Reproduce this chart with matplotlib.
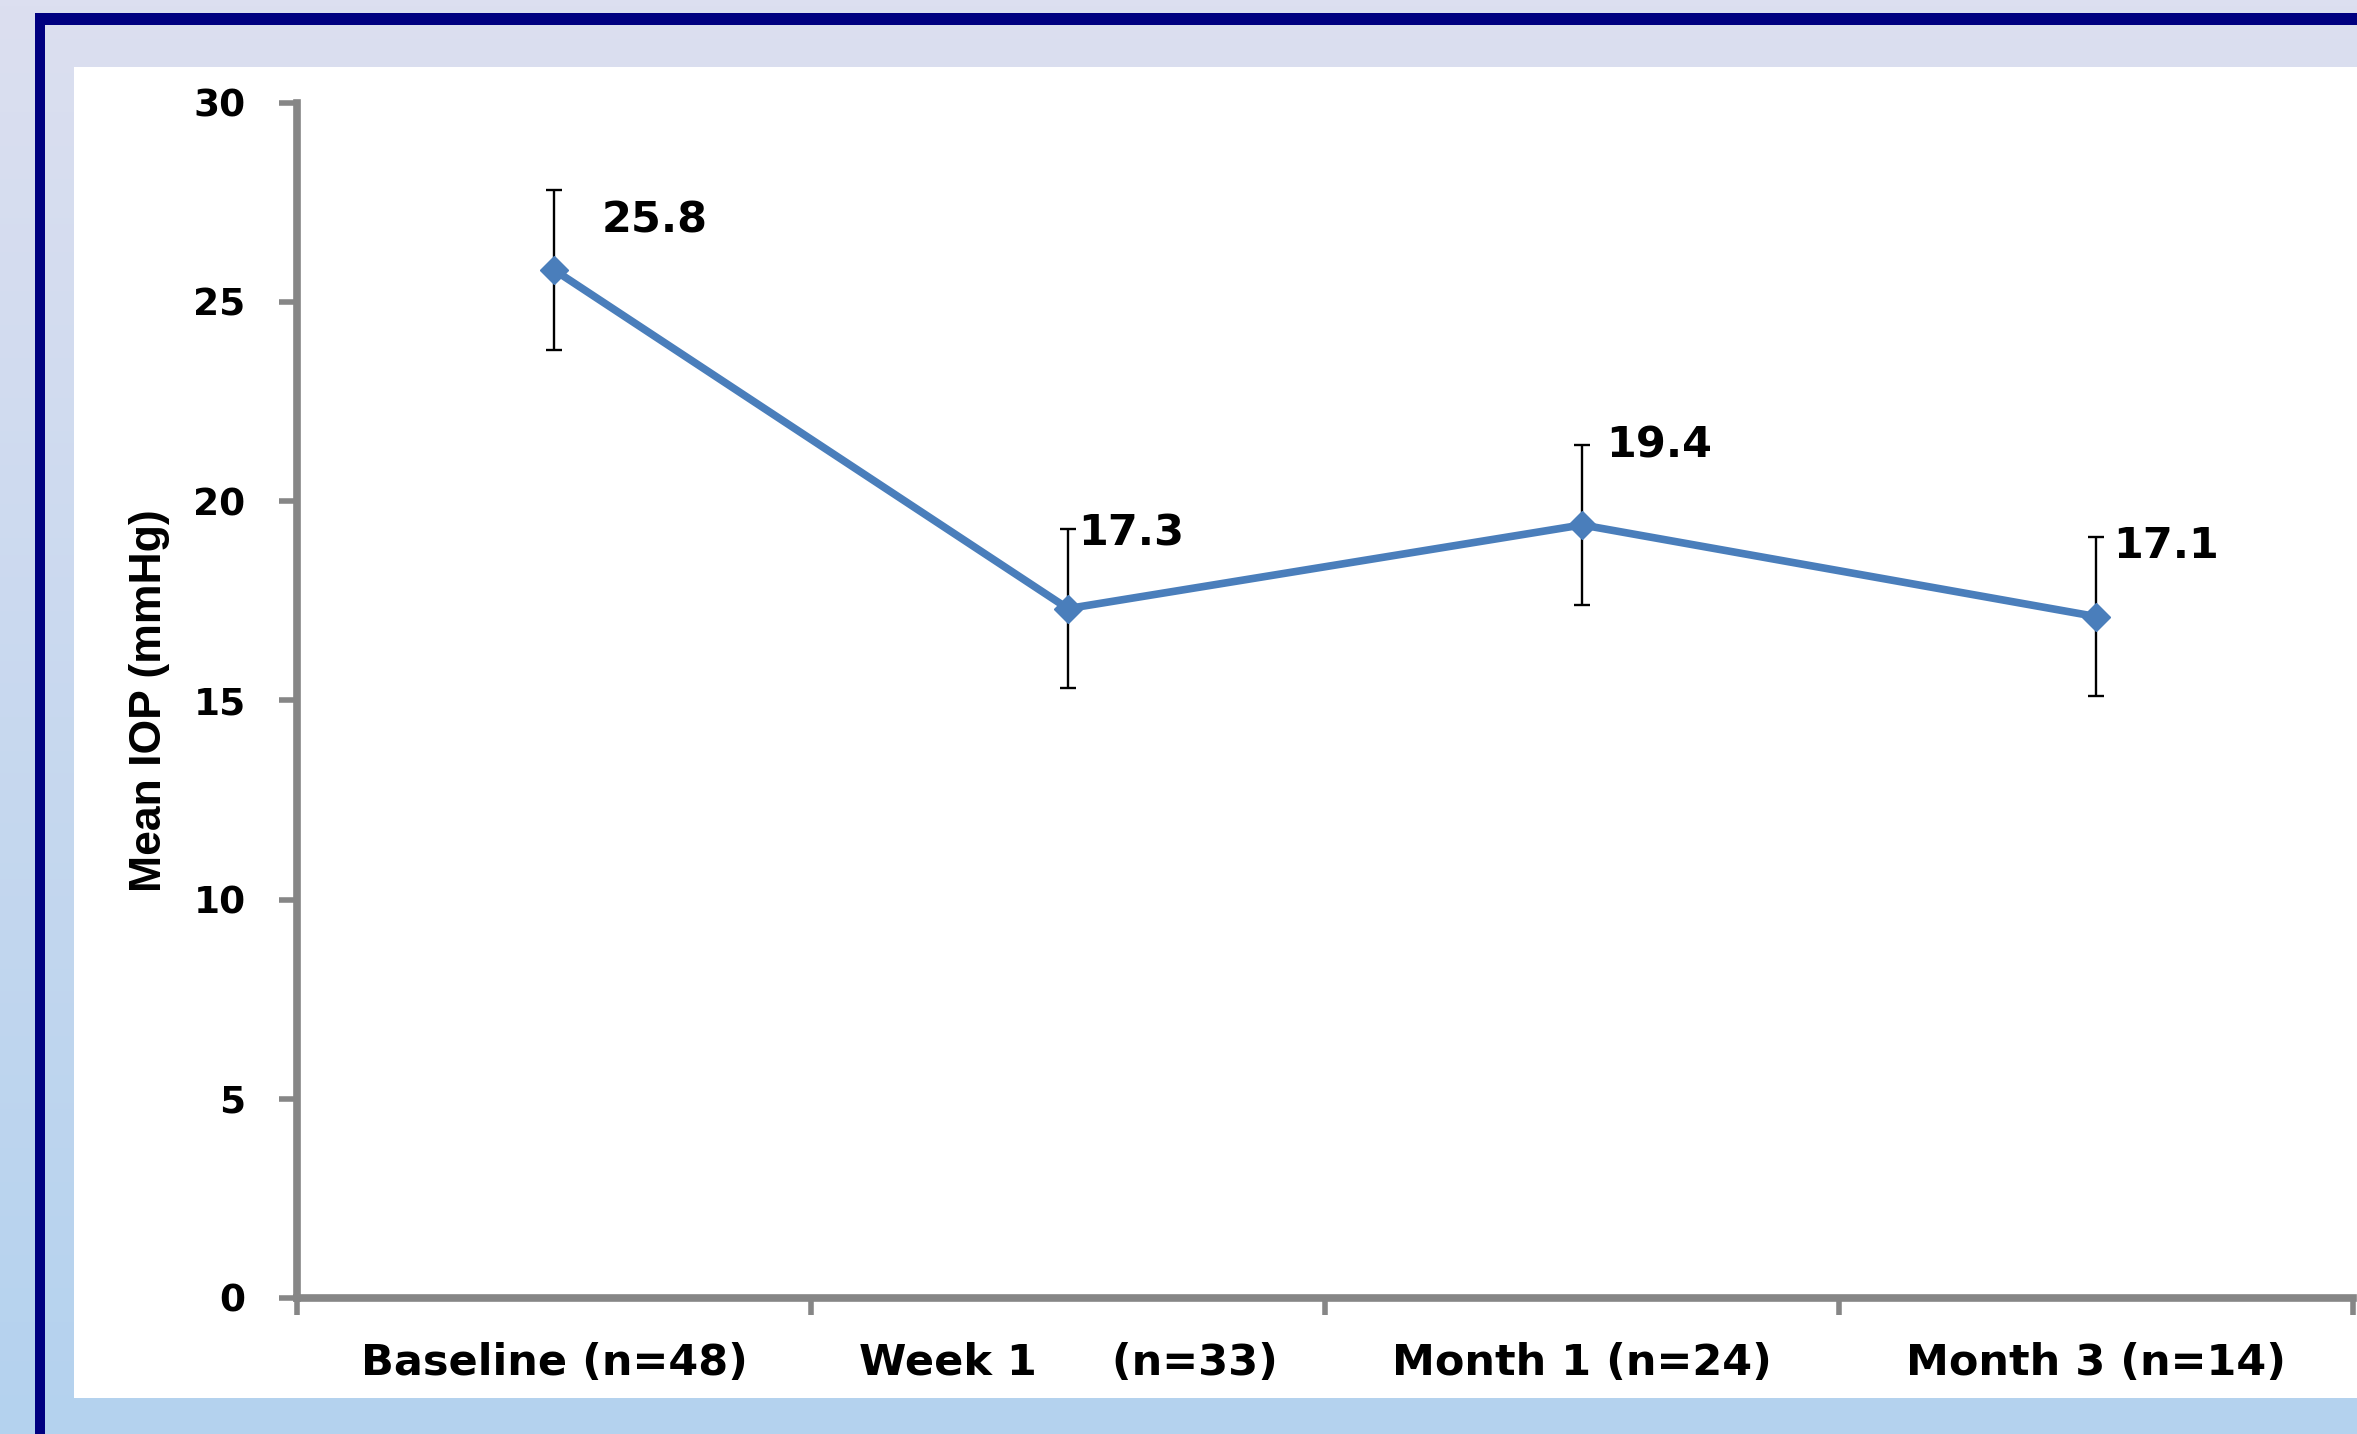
import numpy as np
import matplotlib
matplotlib.use("Agg")
import matplotlib.pyplot as plt
from matplotlib import font_manager
from matplotlib.patches import Rectangle

# ----- data -----
categories = ["Baseline (n=48)", "Week 1     (n=33)", "Month 1 (n=24)", "Month 3 (n=14)"]
mean_iop = [25.8, 17.3, 19.4, 17.1]
err = [2.0, 2.0, 2.0, 2.0]
value_labels = ["25.8", "17.3", "19.4", "17.1"]
# label offsets from the point (pixels: right, up) -- hand placed like the slide
label_dx = [48, 10, 24, 17]
label_dy = [37, 63, 67, 59]


def have_font(name):
    try:
        font_manager.findfont(font_manager.FontProperties(family=name, weight="bold"),
                              fallback_to_default=False)
        return True
    except Exception:
        return False


# narrow font for the y label (Calibri-like in the original)
ylab_font, ylab_size = "DejaVu Sans", 27
for name, size in [("Liberation Sans Narrow", 40), ("DejaVu Sans Condensed", 30),
                   ("Liberation Sans", 32)]:
    if have_font(name):
        ylab_font, ylab_size = name, size
        break

W, H = 2357, 1434
fig = plt.figure(figsize=(W / 100, H / 100), dpi=100)

# ----- slide background (gradient + navy frame + white panel) -----
bg = fig.add_axes([0, 0, 1, 1], zorder=0)
top_c = np.array([220, 223, 240]) / 255
bot_c = np.array([180, 210, 238]) / 255
t = np.linspace(0, 1, 256)[:, None, None]
grad = top_c * (1 - t) + bot_c * t
grad = np.repeat(grad, 2, axis=1)
bg.imshow(grad, aspect="auto", extent=[0, W, H, 0])
bg.set_xlim(0, W)
bg.set_ylim(H, 0)
bg.axis("off")
navy = "#000080"
bg.add_patch(Rectangle((35, 13), W - 35, 12, color=navy, lw=0))
bg.add_patch(Rectangle((35, 13), 10, H - 13, color=navy, lw=0))
bg.add_patch(Rectangle((74, 67), W - 74, 1398 - 67, color="white", lw=0))

# ----- chart -----
ax = fig.add_axes([297 / W, 1 - 1298 / H, (2353 - 297) / W, (1298 - 102.5) / H], zorder=1)
ax.patch.set_alpha(0)
x = np.arange(len(categories))

blue = "#4A7EBB"
ax.errorbar(x, mean_iop, yerr=err, fmt="none", ecolor="black", elinewidth=1.7,
            capsize=6, capthick=1.7, zorder=2)
ax.plot(x, mean_iop, color=blue, lw=5.5, marker="D", ms=14, mfc=blue, mec=blue, zorder=3)

for xi, yi, lab, dx, dy in zip(x, mean_iop, value_labels, label_dx, label_dy):
    ax.annotate(lab, (xi, yi), xytext=(dx, dy), textcoords="offset pixels",
                ha="left", va="baseline", fontsize=31, fontweight="bold",
                family="DejaVu Sans", color="black", zorder=4)

ax.set_xlim(-0.5, 3.5)
ax.set_ylim(0, 30)
ax.set_yticks(np.arange(0, 31, 5))
ax.set_xticks(x)
ax.set_xticklabels(categories)
ax.set_xticks(np.arange(-0.5, 3.6, 1), minor=True)

gray = "#868686"
for s in ["top", "right"]:
    ax.spines[s].set_visible(False)
for s in ["left", "bottom"]:
    ax.spines[s].set_color(gray)
    ax.spines[s].set_linewidth(5.5)

ax.tick_params(axis="y", which="major", direction="out", length=13, width=4,
               color=gray, pad=24, labelsize=27)
ax.tick_params(axis="x", which="major", length=0, pad=32, labelsize=31)
ax.tick_params(axis="x", which="minor", direction="out", length=12, width=4, color=gray)
for lab in ax.get_xticklabels() + ax.get_yticklabels():
    lab.set_fontweight("bold")

ax.set_ylabel("Mean IOP (mmHg)", fontsize=ylab_size, fontweight="bold",
              family=ylab_font, va="center")
ax.yaxis.set_label_coords(-0.0715, 0.5)

fig.savefig("out.png", dpi=100)
